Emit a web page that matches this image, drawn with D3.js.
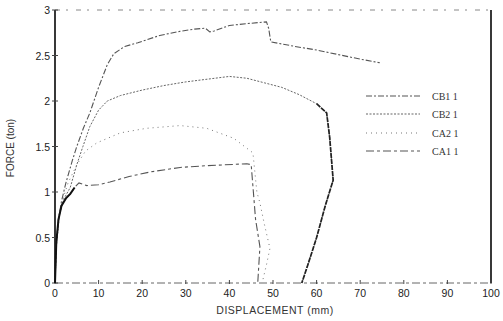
<!DOCTYPE html>
<html><head><meta charset="utf-8">
<script src="https://cdn.jsdelivr.net/npm/d3@7/dist/d3.min.js"></script>
<style>body{margin:0;background:#fff}</style>
</head><body>
<svg id="c" width="503" height="321"></svg>
<script>
const xTicks = [0,10,20,30,40,50,60,70,80,90,100];
const yTicks = [0,0.5,1,1.5,2,2.5,3];
const yTickLabels = ["0","0.5","1","1.5","2","2.5","3"];
const seriesNames = ["CB1 1","CB2 1","CA2 1","CA1 1"];

const cb1X = [0,0.3,0.8,1.5,2.5,4,5,6.5,8,10,12,13.5,16,19,24,28,32,34.5,35.5,36.5,40,44,48.5,49,49.5,55,60,65,70,74.5];
const cb1Y = [0,0.4,0.7,0.9,1.1,1.35,1.5,1.7,1.87,2.15,2.4,2.52,2.6,2.64,2.72,2.76,2.79,2.8,2.76,2.77,2.83,2.85,2.87,2.8,2.65,2.6,2.56,2.51,2.46,2.42];

const cb2X = [0,0.3,1,2,3.5,5,6.4,8,10,12,15,20,25,30,35,40,44,48,52,56,60,62.3,63,63.8,62,60,58,56.6];
const cb2Y = [0,0.4,0.75,0.92,1.05,1.3,1.5,1.72,1.9,2.0,2.06,2.12,2.17,2.21,2.24,2.27,2.25,2.2,2.15,2.07,1.97,1.87,1.6,1.13,0.85,0.5,0.2,0];

const ca2X = [0,0.3,1,2,3,5,7,9.6,15,21,28.7,34.8,41,45.4,46.3,47,48,49.3,48.5,47.5];
const ca2Y = [0,0.4,0.75,0.95,1.1,1.3,1.45,1.54,1.65,1.7,1.73,1.7,1.59,1.43,1.0,0.88,0.65,0.38,0.2,0];

const ca1X = [0,0.3,0.8,1.5,2.5,3.5,4.5,5.5,7.3,10,12.6,17,21.8,28.7,35,44,45,45.5,46,47,46.5];
const ca1Y = [0,0.45,0.7,0.85,0.93,0.98,1.05,1.1,1.07,1.08,1.11,1.17,1.22,1.27,1.29,1.31,1.3,1.0,0.7,0.4,0];

const svg = d3.select("#c");
const x = d3.scaleLinear().domain([0,100]).range([55,491]);
const y = d3.scaleLinear().domain([0,3]).range([283,10]);

const styles = [
  {dash:"6,2,2,2", color:"#555", w:1.1},
  {dash:"2,1.5", color:"#666", w:1.0},
  {dash:"1,4", color:"#777", w:1.0},
  {dash:"8,3,3,3", color:"#555", w:1.1}
];
const series = [[cb1X,cb1Y],[cb2X,cb2Y],[ca2X,ca2Y],[ca1X,ca1Y]];
const line = d3.line().x(d=>x(d[0])).y(d=>y(d[1]));

// frame
svg.append("line").attr("x1",x(0)).attr("x2",x(100)).attr("y1",y(3)).attr("y2",y(3))
  .attr("stroke","#888").attr("stroke-width",1).attr("stroke-dasharray","5,6,2,8");
svg.append("line").attr("x1",x(0)).attr("x2",x(100)).attr("y1",y(0)).attr("y2",y(0))
  .attr("stroke","#666").attr("stroke-width",1).attr("stroke-dasharray","8,3,3,3");
svg.append("line").attr("x1",x(0)).attr("x2",x(0)).attr("y1",y(0)).attr("y2",y(3))
  .attr("stroke","#222").attr("stroke-width",1.8);
svg.append("line").attr("x1",x(100)).attr("x2",x(100)).attr("y1",y(0)).attr("y2",y(3))
  .attr("stroke","#222").attr("stroke-width",1.8);

// ticks
svg.selectAll(".xt").data(xTicks).enter().append("line")
  .attr("x1",d=>x(d)).attr("x2",d=>x(d)).attr("y1",y(0)-3).attr("y2",y(0)+1)
  .attr("stroke","#444").attr("stroke-width",1);
svg.selectAll(".xl").data(xTicks).enter().append("text")
  .attr("x",d=>x(d)).attr("y",y(0)+14).attr("text-anchor","middle")
  .attr("font-family","Liberation Sans, Arial, sans-serif").attr("font-size",10.5).attr("fill","#222")
  .text(d=>d);
svg.selectAll(".yt").data(yTicks).enter().append("line")
  .attr("x1",x(0)-3).attr("x2",x(0)+3).attr("y1",d=>y(d)).attr("y2",d=>y(d))
  .attr("stroke","#444").attr("stroke-width",1);
svg.selectAll(".yl").data(yTicks).enter().append("text")
  .attr("x",x(0)-5).attr("y",d=>y(d)+4).attr("text-anchor","end")
  .attr("font-family","Liberation Sans, Arial, sans-serif").attr("font-size",10.5).attr("fill","#222")
  .text((d,i)=>yTickLabels[i]);

// axis titles
svg.append("text").attr("x",275).attr("y",314).attr("text-anchor","middle")
  .attr("font-family","Liberation Sans, Arial, sans-serif").attr("font-size",10.5).attr("fill","#333")
  .attr("letter-spacing","0.5").text("DISPLACEMENT  (mm)");
svg.append("text").attr("transform","translate(14,148) rotate(-90)").attr("text-anchor","middle")
  .attr("font-family","Liberation Sans, Arial, sans-serif").attr("font-size",10).attr("fill","#333")
  .text("FORCE  (ton)");

// curves
series.forEach((s,i)=>{
  const pts = s[0].map((v,j)=>[v,s[1][j]]);
  svg.append("path").attr("d",line(pts)).attr("fill","none")
    .attr("stroke",styles[i].color).attr("stroke-width",styles[i].w)
    .attr("stroke-dasharray",styles[i].dash);
});
// heavy common initial segment (from CA1 1)
const startPts = ca1X.map((v,j)=>[v,ca1Y[j]]).filter(d=>d[0]<=4.5 && d[1]<=1.05);
svg.append("path").attr("d",line(startPts)).attr("fill","none")
  .attr("stroke","#111").attr("stroke-width",2);
// heavy unloading branch of CB2 1
const cb2Pts = cb2X.map((v,j)=>[v,cb2Y[j]]);
svg.append("path").attr("d",line(cb2Pts.slice(20))).attr("fill","none")
  .attr("stroke","#222").attr("stroke-width",1.7).attr("stroke-dasharray","5,1");

// legend
const legY = [96,114,133,151];
seriesNames.forEach((n,i)=>{
  svg.append("line").attr("x1",366).attr("x2",420).attr("y1",legY[i]).attr("y2",legY[i])
    .attr("stroke",styles[i].color).attr("stroke-width",1.1).attr("stroke-dasharray",styles[i].dash);
  svg.append("text").attr("x",432).attr("y",legY[i]+4)
    .attr("font-family","Liberation Serif, serif").attr("font-size",10).attr("fill","#333")
    .text(n);
});
</script>
</body></html>
